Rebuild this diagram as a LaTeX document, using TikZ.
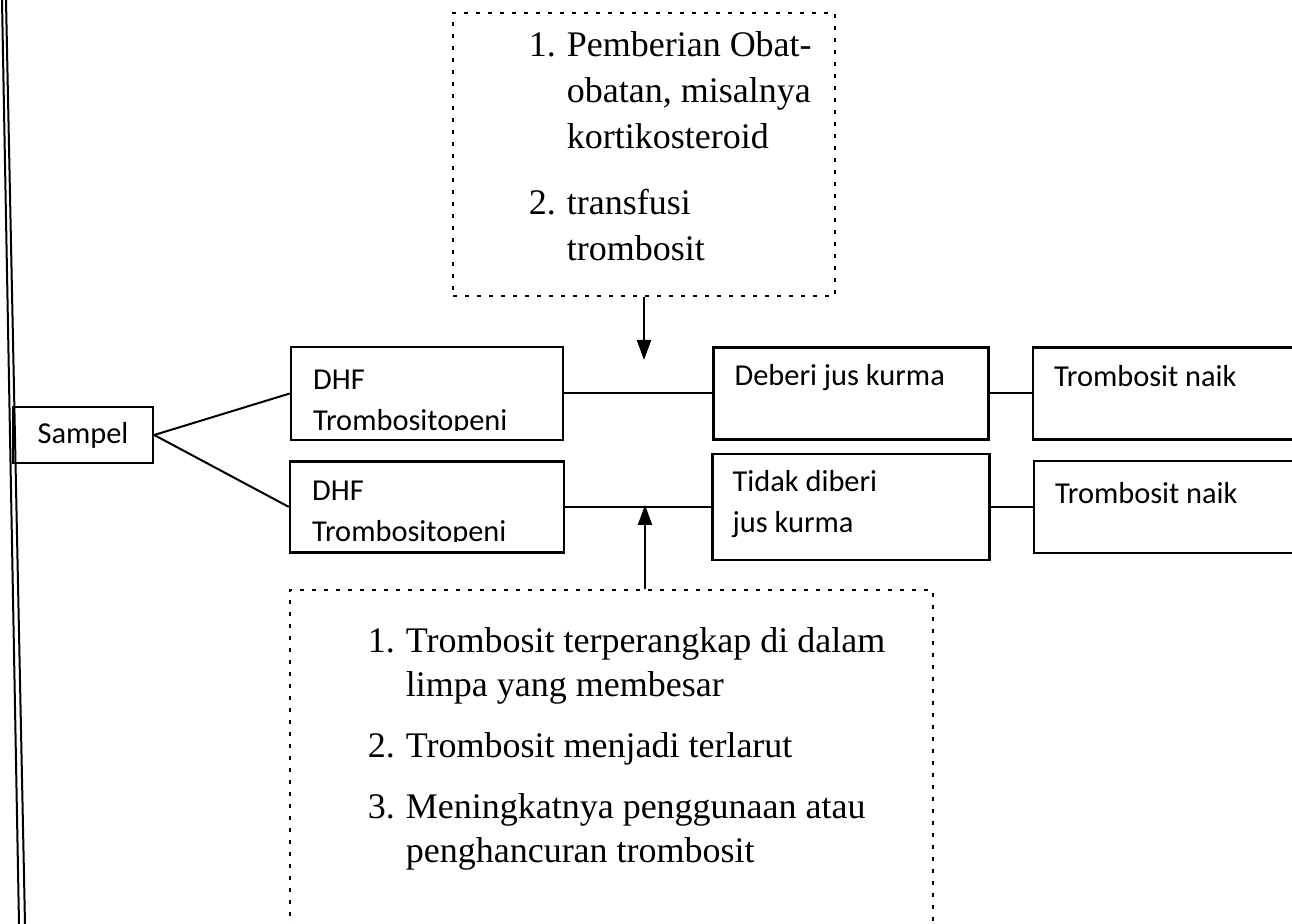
\documentclass[tikz,border=0pt]{standalone}
\usepackage{fontspec}
\setmainfont{Liberation Serif}
\newfontfamily\boxfont{Carlito}
\usetikzlibrary{arrows.meta, positioning}

\tikzset{
  box/.style={draw, line width=1.2pt, inner sep=0pt},
  boxtxt/.style={font=\boxfont\fontsize{15.2}{20.5}\selectfont, align=left,
                 inner sep=0pt, anchor=north west},
  dotbox/.style={draw, line width=0.6pt, dash pattern=on 2pt off 4pt, inner sep=0pt},
  listtxt/.style={font=\fontsize{18}{22}\selectfont, align=left,
                  inner sep=0pt, anchor=north west},
  link/.style={line width=1pt},
  push/.style={line width=1.2pt, -{Triangle[length=10pt, width=7pt]}}
}
\newcommand{\listno}[1]{\makebox[19pt][l]{#1}}
\newcommand{\listind}{\hspace*{19pt}}

\begin{document}
\begin{tikzpicture}[x=0.5pt, y=-0.5pt]
  \useasboundingbox (0,0) rectangle (1292,924);
  \clip (0,0) rectangle (1292,924);
  % page edge
  \draw[line width=1pt] (2,0) -- (19,924);
  \draw[line width=1pt] (6,0) -- (25,924);

  \node[box, font=\boxfont\fontsize{15.2}{18}\selectfont,
        minimum width=70pt, minimum height=28pt] (sampel) at (83,435) {Sampel};
  \node[box, minimum width=136pt, minimum height=46.5pt] (dhfa) at (427,393.5) {};
  \node[box, minimum width=137pt, minimum height=45.5pt, below=9.5pt of dhfa] (dhfb) {};
  \node[box, minimum width=137.5pt, minimum height=46pt, right=74pt of dhfa] (deberi) {};
  \node[box, minimum width=138.5pt, minimum height=53pt, right=73pt of dhfb] (tidak) {};
  \node[box, minimum width=141pt, minimum height=46pt, right=21pt of deberi] (naika) {};
  \node[box, minimum width=141pt, minimum height=46pt, right=21pt of tidak] (naikb) {};

  % the lower line of text is cut off by the box
  \begin{scope}
    \clip (dhfa.north west) rectangle ([yshift=5.5pt]dhfa.south east);
    \node[boxtxt] (dhfatxt) at ([shift={(23,24)}]dhfa.north west) {DHF\\Trombositopeni};
  \end{scope}
  \begin{scope}
    \clip (dhfb.north west) rectangle ([yshift=6pt]dhfb.south east);
    \node[boxtxt] (dhfbtxt) at ([shift={(23,20)}]dhfb.north west) {DHF\\Trombositopeni};
  \end{scope}
  \node[boxtxt] (debertxt) at ([shift={(22,18)}]deberi.north west) {Deberi jus kurma};
  \node[boxtxt] (tidaktxt) at ([shift={(21,17)}]tidak.north west) {Tidak diberi\\jus kurma};
  \node[boxtxt] (naikatxt) at ([shift={(22,19)}]naika.north west) {Trombosit naik};
  \node[boxtxt] (naikbtxt) at ([shift={(22,22)}]naikb.north west) {Trombosit naik};

  % sebab dan penanganan
  \node[dotbox, minimum width=191pt, minimum height=141.5pt] (obat) at (644,154.5) {};
  \node[listtxt, font=\fontsize{18}{23}\selectfont] (obattxt) at ([shift={(76,19)}]obat.north west)
    {\listno{1.}Pemberian Obat-\\\listind obatan, misalnya\\\listind kortikosteroid\\[10pt]%
     \listno{2.}transfusi\\\listind trombosit};
  \node[dotbox, minimum width=321.5pt, minimum height=180pt] (sebab) at (611.5,770) {};
  \node[listtxt] (sebabtxt) at ([shift={(78,37.5)}]sebab.north west)
    {\listno{1.}Trombosit terperangkap di dalam\\\listind limpa yang membesar\\[8.5pt]%
     \listno{2.}Trombosit menjadi terlarut\\[8.5pt]%
     \listno{3.}Meningkatnya penggunaan atau\\\listind penghancuran trombosit};

  \coordinate (tipa) at (644,360);
  \coordinate (tipb) at (645,505);

  \draw[link] (sampel.east) -- (dhfa.west);
  \draw[link] (sampel.east) -- (dhfb.west);
  \draw[link] (dhfa.east) -- (deberi.west);
  \draw[link] (dhfb.east) -- (tidak.west);
  \draw[link] (deberi.east) -- (naika.west);
  \draw[link, line width=0.7pt] (tidak.east) -- (naikb.west);
  \draw[push] (obat.south) -- (tipa);
  \draw[push] (sebab.north -| tipb) -- (tipb);
\end{tikzpicture}
\end{document}
